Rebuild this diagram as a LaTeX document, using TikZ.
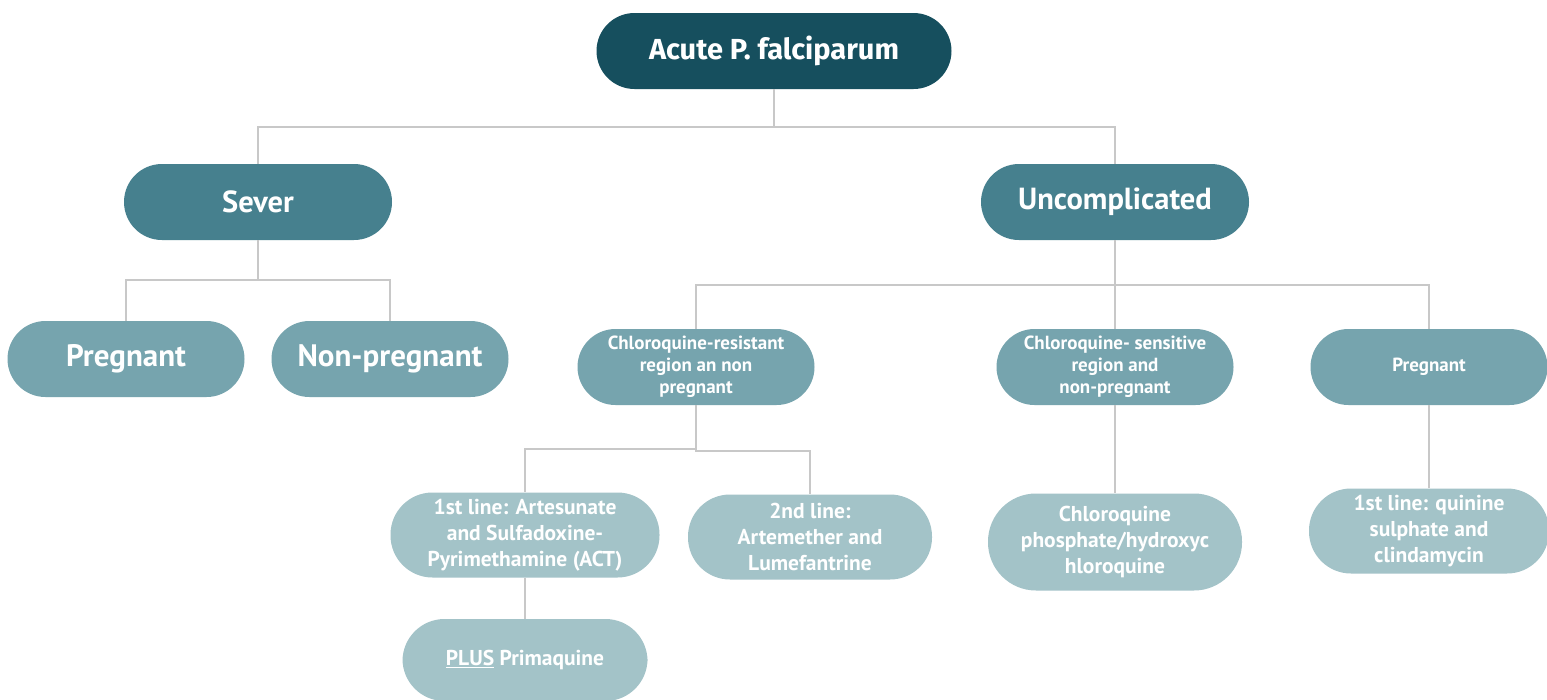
\documentclass[tikz,border=0pt]{standalone}
\usepackage{fontspec}
\setmainfont{PT Sans}
\newfontfamily\rootfont{Fira Sans}
\usetikzlibrary{positioning}

\definecolor{tealA}{HTML}{164F5E}
\definecolor{tealB}{HTML}{46808E}
\definecolor{tealC}{HTML}{76A4AE}
\definecolor{tealD}{HTML}{A3C3C8}
\definecolor{linkgray}{HTML}{C8C8C8}

\tikzset{
  pill/.style={rectangle, rounded corners=#1, text=white, align=center, inner sep=0pt},
  lvlzero/.style={pill=38pt, fill=tealA, minimum height=76pt,
    font=\rootfont\bfseries\fontsize{29}{32}\selectfont},
  lvlone/.style={pill=38pt, fill=tealB, minimum height=76pt,
    font=\bfseries\fontsize{30.5}{34}\selectfont},
  lvltwo/.style={pill=38pt, fill=tealC, minimum height=76pt, minimum width=237pt},
  lvlthree/.style={pill=42pt, fill=tealD, minimum height=85pt,
    font=\bfseries\fontsize{21.5}{26}\selectfont},
  small/.style={font=\bfseries\fontsize{19}{22}\selectfont},
  big/.style={font=\bfseries\fontsize{31}{34}\selectfont},
  link/.style={draw=linkgray, line width=2pt},
}

\begin{document}
\begin{tikzpicture}[x=1pt, y=-1pt]
    \useasboundingbox[fill=white] (0,0) rectangle (1547,699);

    % Raiz
    \node[lvlzero, minimum width=355pt] (acute) at (774,51) {Acute P. falciparum};

    % Primer nivel
    \node[lvlone, minimum width=268pt] (sever) at (258,202) {Sever};
    \node[lvlone, minimum width=268pt] (uncomp) at (1115,202) {Uncomplicated};

    % Segundo nivel
    \node[lvltwo, big] (pregA) at (126,359) {Pregnant};
    \node[lvltwo, big] (nonpreg) at (390,359) {Non-pregnant};
    \node[lvltwo, small] (resist) at (696,367) {Chloroquine-resistant\\region an non\\pregnant};
    \node[lvltwo, small] (sensit) at (1115,367) {Chloroquine- sensitive\\region and\\non-pregnant};
    \node[lvltwo, small] (pregB) at (1429,367) {Pregnant};

    % Tercer nivel
    \node[lvlthree, minimum width=269pt] (first) at (525,535) {1st line: Artesunate\\and Sulfadoxine-\\Pyrimethamine (ACT)};
    \node[lvlthree, minimum width=244pt] (second) at (810,537) {2nd line:\\Artemether and\\Lumefantrine};
    \node[lvlthree, minimum width=254pt, minimum height=97pt, rounded corners=48pt] (chloro) at (1115,542) {Chloroquine\\phosphate/hydroxyc\\hloroquine};
    \node[lvlthree, minimum width=240pt] (quinine) at (1429,531) {1st line: quinine\\sulphate and\\clindamycin};
    \node[lvlthree, minimum width=245pt, minimum height=82pt] (plus) at (525,660) {\underline{PLUS} Primaquine};

    % Conectores
    \draw[link] (acute.south) -- ++(0,38) -| (sever.north);
    \draw[link] (acute.south) -- ++(0,38) -| (uncomp.north);
    \draw[link] (sever.south) -- ++(0,40) -| (pregA.north);
    \draw[link] (sever.south) -- ++(0,40) -| (nonpreg.north);
    \draw[link] (uncomp.south) -- ++(0,45) -| (resist.north);
    \draw[link] (uncomp.south) -- (sensit.north);
    \draw[link] (uncomp.south) -- ++(0,45) -| (pregB.north);
    \draw[link] (resist.south) -- ++(0,44) -| (first.north);
    \draw[link] (resist.south) -- ++(0,46) -| (second.north);
    \draw[link] (sensit.south) -- (chloro.north);
    \draw[link] (pregB.south) -- (quinine.north);
    \draw[link] (first.south) -- (plus.north);
\end{tikzpicture}
\end{document}
